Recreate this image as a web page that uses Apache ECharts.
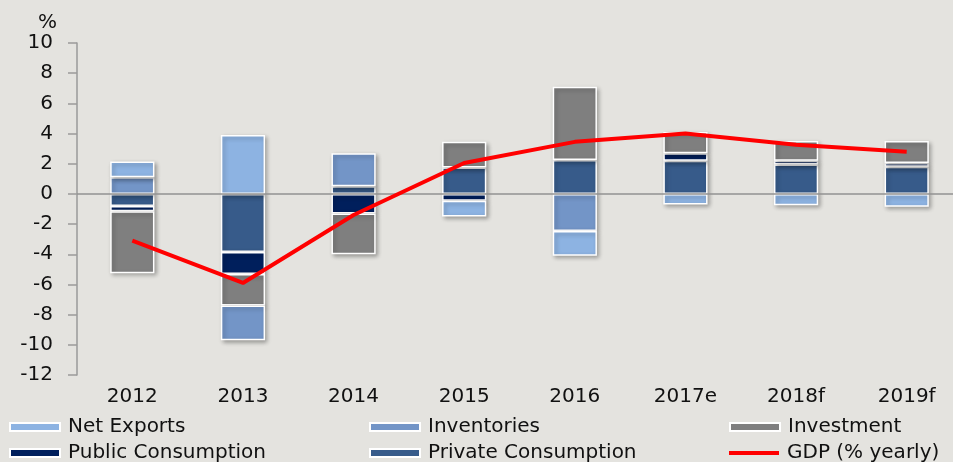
<!DOCTYPE html>
<html>
<head>
<meta charset="utf-8">
<script src="https://cdn.jsdelivr.net/npm/echarts@6/dist/echarts.min.js"></script>
<style>
  html, body { margin: 0; padding: 0; background: #e4e3df; }
  #chart { width: 953px; height: 462px; }
</style>
</head>
<body>
<div id="chart"></div>
<script>
// contributions to growth, percentage points
const categories = ['2012', '2013', '2014', '2015', '2016', '2017e', '2018f', '2019f']
const privateCons = [-0.8, -3.85, 0.5, 1.75, 2.25, 2.2, 1.95, 1.8]
const publicCons = [-0.35, -1.45, -1.3, -0.45, null, 0.5, 0.25, 0.25]
const investment = [-4.1, -2.1, -2.7, 1.7, 4.85, 1.4, 1.3, 1.45]
const inventories = [1.1, -2.3, 2.2, null, -2.45, null, null, null]
const netExports = [1.05, 3.9, null, -1.05, -1.65, -0.7, -0.75, -0.85]
const gdp = [-3.1, -5.9, -1.4, 2.05, 3.45, 4.0, 3.25, 2.8]
const yTicks = { min: -12, max: 10, interval: 2 }

const font = 'DejaVu Sans'
const shadow = {
  borderColor: '#ffffff',
  borderWidth: 1.5,
  shadowBlur: 4,
  shadowOffsetX: 2,
  shadowOffsetY: 2,
  shadowColor: 'rgba(0,0,0,0.3)'
}

function barSerie(name, data, color) {
  return {
    name: name,
    type: 'bar',
    stack: 'contrib',
    barWidth: '40%',
    z: 2,
    data: data,
    itemStyle: Object.assign({ color: color }, shadow)
  }
}

// one legend per item so the 3x2 layout stays put
function legendItem(name, left, top, line) {
  return {
    left: left,
    top: top,
    padding: 0,
    icon: 'rect',
    itemWidth: 50,
    itemHeight: line ? 4 : 8,
    data: [name],
    itemStyle: line ? { borderWidth: 0 } : {},
    textStyle: { fontFamily: font, fontSize: 20, color: '#111', padding: [0, 0, 0, 3] }
  }
}

const chart = echarts.init(document.getElementById('chart'))
chart.setOption({
  animation: false,
  backgroundColor: '#e4e3df',
  grid: { left: 77, right: -9, top: 43, bottom: 87, outerBoundsMode: 'none' },
  legend: [
    legendItem('Net Exports', 9, 417),
    legendItem('Inventories', 369, 417),
    legendItem('Investment', 729, 417),
    legendItem('Public Consumption', 9, 443),
    legendItem('Private Consumption', 369, 443),
    legendItem('GDP (% yearly)', 729, 443, true)
  ],
  xAxis: [{
    type: 'category',
    data: categories,
    axisLine: { show: false, onZero: false },
    axisTick: { show: false },
    axisLabel: { fontFamily: font, fontSize: 20, color: '#111', margin: 12 }
  }, {
    type: 'value',
    min: 0,
    max: categories.length,
    show: false
  }],
  yAxis: {
    type: 'value',
    min: yTicks.min,
    max: yTicks.max,
    interval: yTicks.interval,
    name: '%',
    nameLocation: 'end',
    nameGap: 10,
    nameTextStyle: { fontFamily: font, fontSize: 20, color: '#111', align: 'right', padding: [0, 20, 0, 0] },
    splitLine: { show: false },
    axisLine: { show: true, lineStyle: { color: '#9a9a9a', width: 1.5 } },
    axisTick: { show: true, length: 9, lineStyle: { color: '#9a9a9a', width: 1.5 } },
    axisLabel: { fontFamily: font, fontSize: 20, color: '#111', margin: 24 }
  },
  series: [
    barSerie('Private Consumption', privateCons, '#375b8a'),
    barSerie('Public Consumption', publicCons, '#001f5c'),
    barSerie('Investment', investment, '#7f7f7f'),
    barSerie('Inventories', inventories, '#7395c7'),
    barSerie('Net Exports', netExports, '#8db3e2'),
    {
      name: 'GDP (% yearly)',
      type: 'line',
      data: gdp,
      z: 5,
      symbol: 'none',
      lineStyle: { color: '#ff0000', width: 4 },
      itemStyle: { color: '#ff0000' }
    },
    {
      // reference lines: zero line and forecast divider
      type: 'scatter',
      xAxisIndex: 1,
      z: 1,
      silent: true,
      symbolSize: 0,
      data: [[5.05, -12]],
      markLine: {
        silent: true,
        symbol: ['none', 'none'],
        label: { show: false },
        data: [
          { yAxis: 0, lineStyle: { color: '#929292', width: 1.5, type: 'solid' } },
          [
            { coord: [5.05, 10.3], lineStyle: { color: '#000', width: 3.5, type: [8, 3] } },
            { coord: [5.05, -12] }
          ]
        ]
      }
    }
  ]
})
</script>
</body>
</html>
